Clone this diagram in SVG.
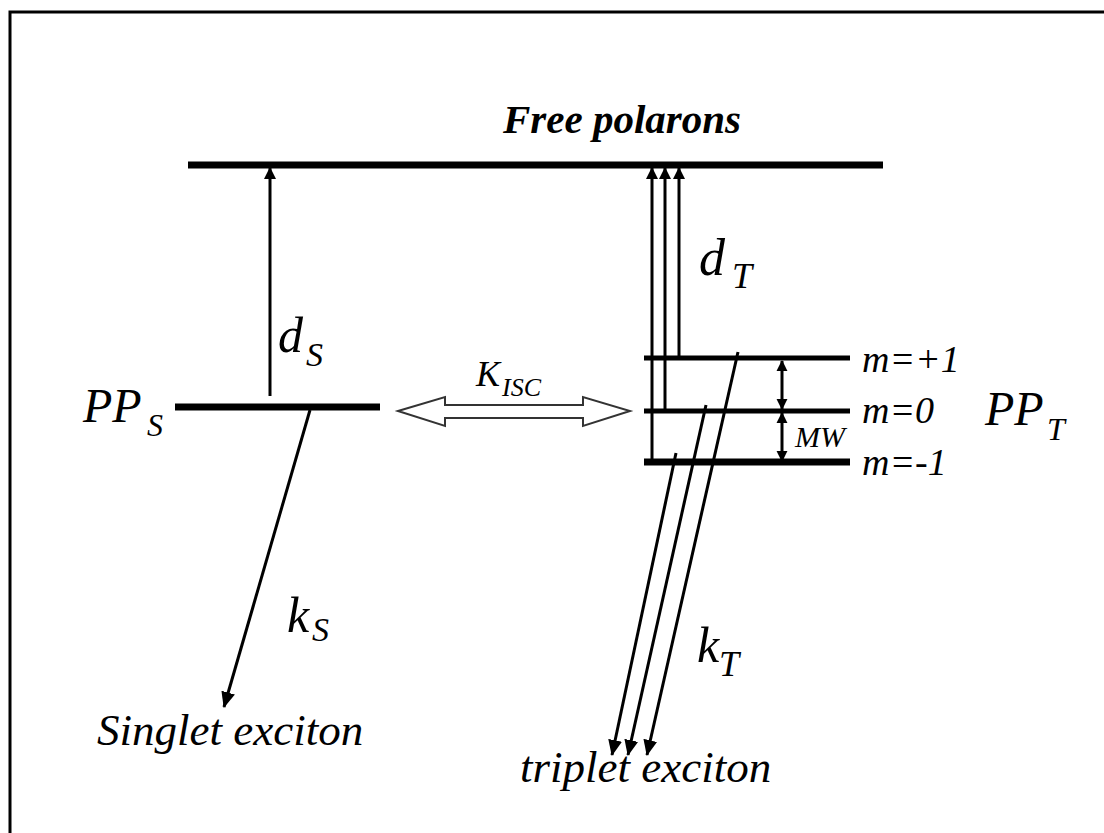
<svg xmlns="http://www.w3.org/2000/svg" width="1104" height="833" viewBox="0 0 1104 833">
<defs>
<style>
.lvl{stroke:#000;fill:none}
.ln{stroke:#000;stroke-width:3;fill:none}
</style>
<marker id="ah" viewBox="0 0 12 12" refX="11" refY="6" markerWidth="12" markerHeight="12" markerUnits="userSpaceOnUse" orient="auto">
<path d="M0,0 L12,6 L0,12 Z" fill="#000"/>
</marker>
<marker id="ahb" viewBox="0 0 16 14" refX="15" refY="7" markerWidth="16" markerHeight="14" markerUnits="userSpaceOnUse" orient="auto">
<path d="M0,0 L16,7 L0,14 Z" fill="#000"/>
</marker>
<marker id="ahs" viewBox="0 0 12 12" refX="11" refY="6" markerWidth="11" markerHeight="12" markerUnits="userSpaceOnUse" orient="auto-start-reverse">
<path d="M0,0 L12,6 L0,12 Z" fill="#000"/>
</marker>
</defs>
<rect x="10" y="12" width="1100" height="830" fill="#fff" stroke="#000" stroke-width="3"/>

<g id="free-polarons">
<line class="lvl" x1="188" y1="165" x2="883" y2="165" stroke-width="7"/>
<text x="622" y="133" font-size="41" text-anchor="middle" font-family="Liberation Serif" font-style="italic" font-weight="bold">Free polarons</text>
</g>

<g id="pp-s">
<line class="lvl" x1="175" y1="407" x2="380" y2="407" stroke-width="7"/>
<text x="83" y="422" font-size="48" font-family="Liberation Serif" font-style="italic">PP</text>
<text x="147" y="436" font-size="32" font-family="Liberation Serif" font-style="italic">S</text>
</g>

<g id="pp-t">
<line class="lvl" x1="644" y1="358" x2="850" y2="358" stroke-width="5"/>
<line class="lvl" x1="644" y1="411" x2="850" y2="411" stroke-width="5"/>
<line class="lvl" x1="644" y1="462" x2="850" y2="462" stroke-width="7"/>
<text x="862" y="372" font-size="38" font-family="Liberation Serif" font-style="italic">m=+1</text>
<text x="862" y="423" font-size="38" font-family="Liberation Serif" font-style="italic">m=0</text>
<text x="862" y="475" font-size="38" font-family="Liberation Serif" font-style="italic">m=-1</text>
<text x="985" y="425" font-size="48" font-family="Liberation Serif" font-style="italic">PP</text>
<text x="1047" y="440" font-size="32" font-family="Liberation Serif" font-style="italic">T</text>
</g>

<g id="singlet-exciton">
<text x="97" y="745" font-size="45" font-family="Liberation Serif" font-style="italic">Singlet exciton</text>
</g>

<g id="triplet-exciton">
<text x="520" y="782" font-size="45" font-family="Liberation Serif" font-style="italic">triplet exciton</text>
</g>

<g id="connectors">
<line class="ln" x1="270" y1="396" x2="270" y2="168" marker-end="url(#ah)"/>
<text x="278" y="352" font-size="50" font-family="Liberation Serif" font-style="italic">d</text>
<text x="306" y="366" font-size="34" font-family="Liberation Serif" font-style="italic">S</text>

<line class="ln" x1="652" y1="462" x2="652" y2="168" marker-end="url(#ah)"/>
<line class="ln" x1="665" y1="411" x2="665" y2="168" marker-end="url(#ah)"/>
<line class="ln" x1="679" y1="358" x2="679" y2="168" marker-end="url(#ah)"/>
<text x="699" y="275" font-size="52" font-family="Liberation Serif" font-style="italic">d</text>
<text x="732" y="288" font-size="36" font-family="Liberation Serif" font-style="italic">T</text>

<path d="M398,411 L445,397 L445,405 L583,405 L583,397 L630,411 L583,426 L583,418 L445,418 L445,426 Z" fill="#fff" stroke="#333" stroke-width="2" stroke-linejoin="miter"/>
<text x="476" y="386" font-size="36" font-family="Liberation Serif" font-style="italic">K</text>
<text x="502" y="396" font-size="26" font-family="Liberation Serif" font-style="italic">ISC</text>

<line class="ln" x1="782" y1="361" x2="782" y2="409" marker-start="url(#ahs)" marker-end="url(#ahs)"/>
<line class="ln" x1="782" y1="413" x2="782" y2="461" marker-start="url(#ahs)" marker-end="url(#ahs)"/>
<text x="795" y="447" font-size="30" font-family="Liberation Serif" font-style="italic">MW</text>

<line class="ln" x1="310" y1="410" x2="224" y2="707" marker-end="url(#ahb)"/>
<text x="287" y="632" font-size="50" font-family="Liberation Serif" font-style="italic">k</text>
<text x="312" y="641" font-size="34" font-family="Liberation Serif" font-style="italic">S</text>

<line class="ln" x1="676" y1="453" x2="612" y2="755" marker-end="url(#ahb)"/>
<line class="ln" x1="706" y1="405" x2="628" y2="755" marker-end="url(#ahb)"/>
<line class="ln" x1="738" y1="352" x2="647" y2="755" marker-end="url(#ahb)"/>
<text x="697" y="662" font-size="50" font-family="Liberation Serif" font-style="italic">k</text>
<text x="719" y="676" font-size="36" font-family="Liberation Serif" font-style="italic">T</text>
</g>
</svg>
